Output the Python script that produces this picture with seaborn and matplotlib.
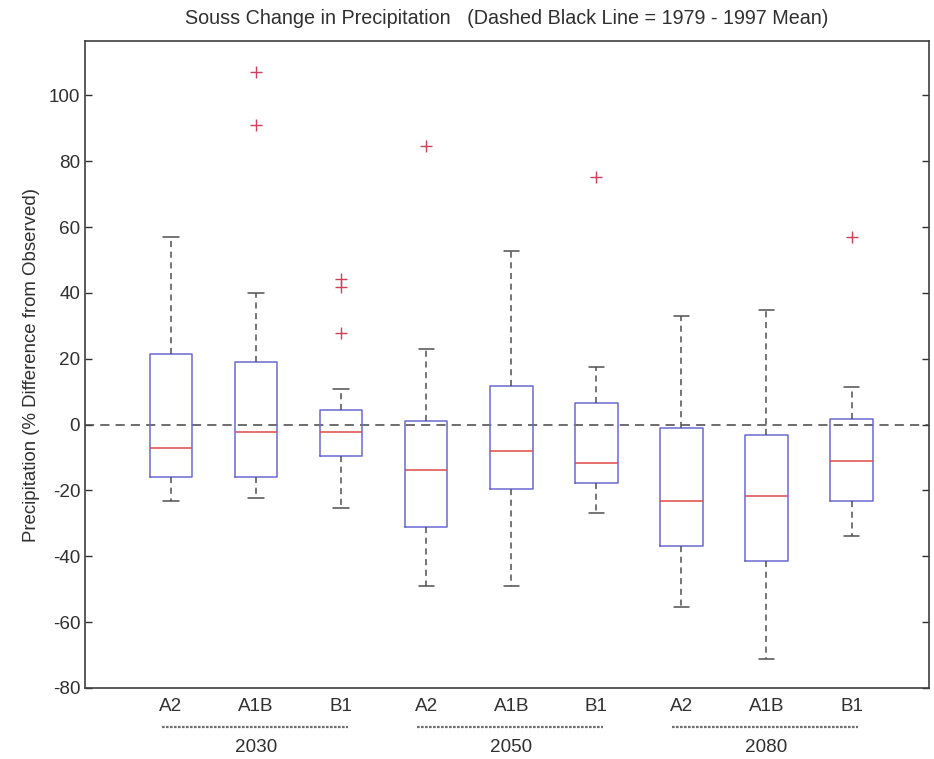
import numpy as np
import pandas as pd
import matplotlib
matplotlib.use("Agg")
import matplotlib.pyplot as plt
import matplotlib.transforms as mtransforms
import seaborn as sns

# ---- data ----
years = ["2030", "2050", "2080"]
scenarios = ["A2", "A1B", "B1"]
# five-number summaries per box (order: 2030 A2, A1B, B1, 2050 A2, A1B, B1, 2080 A2, A1B, B1)
whisker_low = [-23.1, -22.4, -25.4, -49.1, -48.9, -26.8, -55.5, -71.2, -33.7]
q1 = [-16.0, -16.0, -9.4, -31.0, -19.6, -17.8, -37.0, -41.3, -23.1]
median = [-7.2, -2.2, -2.2, -13.8, -7.9, -11.6, -23.1, -21.8, -11.0]
q3 = [21.5, 18.9, 4.5, 1.0, 11.6, 6.5, -1.0, -3.2, 1.7]
whisker_high = [57.1, 39.9, 10.8, 23.0, 52.6, 17.4, 32.9, 34.7, 11.3]
# outliers: box index and value
outlier_box = [1, 1, 2, 2, 2, 3, 5, 8]
outlier_val = [107.0, 91.1, 44.3, 41.7, 27.9, 84.5, 75.2, 56.9]
yticks = [-80, -60, -40, -20, 0, 20, 40, 60, 80, 100]

# ---- build long table ----
keys = [f"{y} {s}" for y in years for s in scenarios]
rows = []
for i, k in enumerate(keys):
    for v in (whisker_low[i], q1[i], median[i], q3[i], whisker_high[i]):
        rows.append({"group": k, "value": v})
df = pd.DataFrame(rows)

sns.set_style("white")
plt.rcParams["font.family"] = ["Liberation Sans", "DejaVu Sans"]

fig = plt.figure(figsize=(9.34, 7.59), dpi=100)
ax = fig.add_axes([85 / 934, 71 / 759, (929 - 85) / 934, (688 - 41) / 759])

box_col = "#6a6ad2"
med_col = "#e04848"
wh_col = "#505050"
txt_col = "#303030"

ax.axhline(0, color="#454545", lw=1.1, ls=(0, (6, 4)), zorder=1)

sns.boxplot(
    data=df, x="group", y="value", order=keys, ax=ax,
    width=0.5, fill=False, whis=np.inf, showfliers=False,
    color=box_col, linecolor=box_col, linewidth=1.1,
    boxprops=dict(color=box_col, linewidth=1.1),
    medianprops=dict(color=med_col, linewidth=1.1),
    whiskerprops=dict(color=wh_col, linestyle=(0, (4, 3)), linewidth=1.1),
    capprops=dict(color=wh_col, linewidth=1.1),
    capwidths=0.18,
)

ax.plot(outlier_box, outlier_val, linestyle="none", marker="+",
        markersize=8.5, markeredgewidth=1.0, color="#d04058", zorder=5)

ax.set_xlim(-1.01, 8.91)
ax.set_ylim(-80, 116.5)
ax.set_yticks(yticks)
ax.set_yticklabels([str(t) for t in yticks])
ax.set_xticks(range(len(keys)))
ax.set_xticklabels(scenarios * len(years))
ax.set_xlabel("")
ax.set_ylabel("Precipitation (% Difference from Observed)", fontsize=13.4, color=txt_col, labelpad=6)
ax.tick_params(axis="y", direction="in", left=True, right=True, length=5,
               labelsize=13.6, colors=txt_col, width=1)
ax.tick_params(axis="x", length=0, labelsize=13.6, colors=txt_col, pad=7)
for sp in ax.spines.values():
    sp.set_visible(True)
    sp.set_color("#404040")
    sp.set_linewidth(1.2)

ax.set_title("Souss Change in Precipitation   (Dashed Black Line = 1979 - 1997 Mean)",
             fontsize=14.2, color=txt_col, pad=12)

trans = mtransforms.blended_transform_factory(ax.transData, ax.transAxes)
for j, yr in enumerate(years):
    c = 3 * j + 1
    ax.plot([c - 1.11, c + 1.08], [-0.0603, -0.0603], transform=trans, clip_on=False,
            color="#707070", lw=1.6, ls=(0, (1.2, 0.6)))
    ax.text(c, -0.0927, yr, transform=trans, ha="center", va="center",
            fontsize=13.6, color=txt_col)

fig.savefig("out.png", dpi=100)
